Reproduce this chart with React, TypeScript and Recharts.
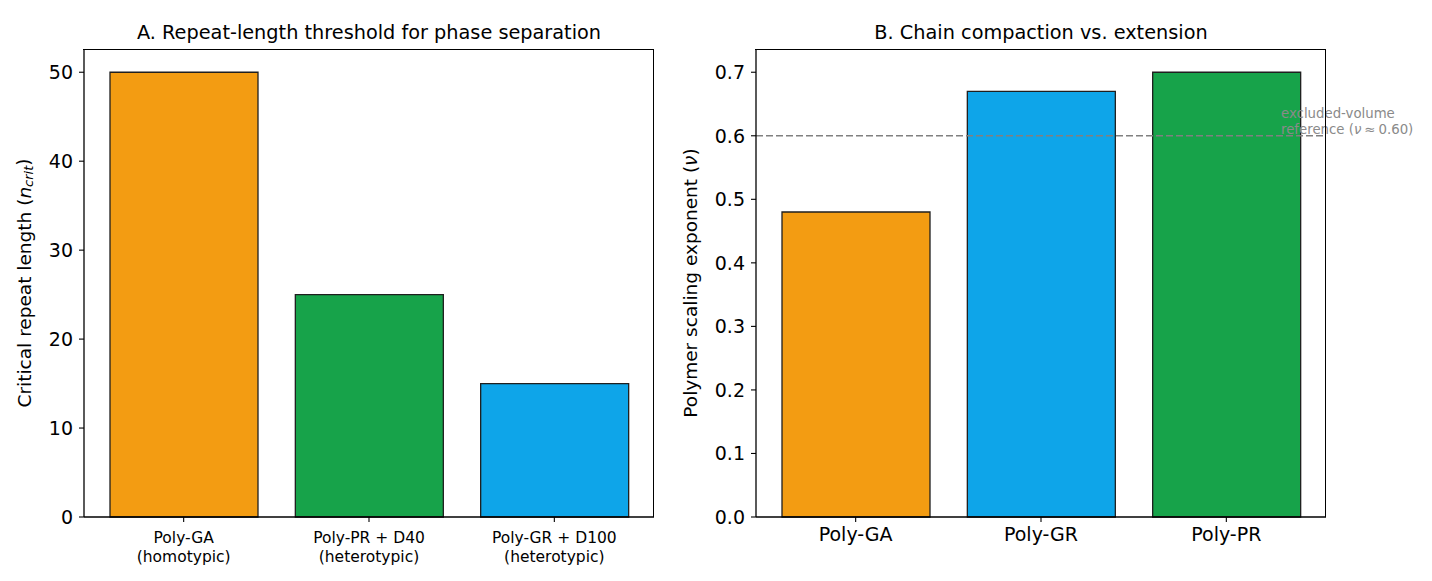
import React from "react";
import { BarChart, Bar, Cell, XAxis, YAxis, ReferenceLine } from "recharts";

const thresholdCategories = ["Poly-GA\n(homotypic)", "Poly-PR + D40\n(heterotypic)", "Poly-GR + D100\n(heterotypic)"];
const thresholdValues = [50, 25, 15];
const thresholdColors = ["#f39c12", "#17a34a", "#0ea5e9"];
const thresholdTicks = [0, 10, 20, 30, 40, 50];

const scalingCategories = ["Poly-GA", "Poly-GR", "Poly-PR"];
const scalingValues = [0.48, 0.67, 0.7];
const scalingColors = ["#f39c12", "#0ea5e9", "#17a34a"];
const scalingTicks = [0, 0.1, 0.2, 0.3, 0.4, 0.5, 0.6, 0.7];
const excludedVolumeNu = 0.6;

const FONT = "DejaVu Sans, sans-serif";
const EDGE = "#1f1f1f";

const thresholdData = thresholdCategories.map((name, i) => ({ name, value: thresholdValues[i] }));
const scalingData = scalingCategories.map((name, i) => ({ name, value: scalingValues[i] }));

function TwoLineTick(props: any) {
  const { x, y, payload } = props;
  const lines = String(payload.value).split("\n");
  return (
    <g transform={`translate(${x},${y})`}>
      {lines.map((line, i) => (
        <text
          key={i}
          x={0}
          y={i * 19}
          dy="0.95em"
          textAnchor="middle"
          fontSize={15.5}
          fontFamily={FONT}
          fill="#000"
        >
          {line}
        </text>
      ))}
    </g>
  );
}

const tickStyle = { fontSize: 19, fontFamily: FONT, fill: "#000" };

function Title({ text, center }: { text: string; center: number }) {
  return (
    <div
      style={{
        position: "absolute",
        top: 22,
        left: center - 300,
        width: 600,
        textAlign: "center",
        fontFamily: FONT,
        fontSize: 19.3,
        lineHeight: "22px",
        color: "#000",
        whiteSpace: "nowrap",
      }}
    >
      {text}
    </div>
  );
}

// plot frame (top/right spines), sits exactly over the plot area
function Frame({ left, width }: { left: number; width: number }) {
  return (
    <div
      style={{
        position: "absolute",
        left: left - 0.65,
        top: 50 - 0.65,
        width: width,
        height: 467,
        borderTop: "1.3px solid #000",
        borderRight: "1.3px solid #000",
        pointerEvents: "none",
      }}
    />
  );
}

export default function App() {
  return (
    <div style={{ position: "absolute", left: 0, top: 0, width: 1432, height: 581, background: "#fff" }}>
      <Title text="A. Repeat-length threshold for phase separation" center={369} />
      <Title text="B. Chain compaction vs. extension" center={1041} />

      <div style={{ position: "absolute", left: 0, top: 0 }}>
        <BarChart width={716} height={581} data={thresholdData} margin={{ top: 50, right: 62, bottom: 24, left: 24 }}>
          <XAxis
            dataKey="name"
            height={40}
            padding={{ left: 7, right: 7 }}
            tick={<TwoLineTick />}
            tickSize={5}
            tickMargin={6}
            axisLine={{ stroke: "#000", strokeWidth: 1.3 }}
            tickLine={{ stroke: "#000", strokeWidth: 1.1 }}
            interval={0}
          />
          <YAxis
            width={60}
            domain={[0, 52.5]}
            ticks={thresholdTicks}
            tick={tickStyle}
            tickSize={5}
            tickMargin={6}
            axisLine={{ stroke: "#000", strokeWidth: 1.3 }}
            tickLine={{ stroke: "#000", strokeWidth: 1.1 }}
            label={{
              content: () => (
                <text
                  x={24}
                  y={283}
                  transform="rotate(-90,24,283)"
                  textAnchor="middle"
                  dominantBaseline="central"
                  fontSize={18.5}
                  fontFamily={FONT}
                  fill="#000"
                >
                  Critical repeat length (<tspan fontStyle="italic">n</tspan>
                  <tspan fontStyle="italic" fontSize="0.7em" dy="0.3em">crit</tspan>
                  <tspan dy="-0.25em">)</tspan>
                </text>
              ),
            }}
          />
          <Bar dataKey="value" barSize={148} stroke={EDGE} strokeWidth={1.3} isAnimationActive={false}>
            {thresholdData.map((d, i) => (
              <Cell key={d.name} fill={thresholdColors[i]} />
            ))}
          </Bar>
        </BarChart>
      </div>
      <Frame left={84} width={570} />

      <div style={{ position: "absolute", left: 672, top: 0 }}>
        <BarChart width={760} height={581} data={scalingData} margin={{ top: 50, right: 106, bottom: 24, left: 24 }}>
          <XAxis
            dataKey="name"
            height={40}
            padding={{ left: 7, right: 7 }}
            tick={tickStyle}
            tickSize={5}
            tickMargin={6}
            axisLine={{ stroke: "#000", strokeWidth: 1.3 }}
            tickLine={{ stroke: "#000", strokeWidth: 1.1 }}
            interval={0}
          />
          <YAxis
            width={60}
            domain={[0, 0.735]}
            ticks={scalingTicks}
            tickFormatter={(v: number) => v.toFixed(1)}
            tick={tickStyle}
            tickSize={5}
            tickMargin={6}
            axisLine={{ stroke: "#000", strokeWidth: 1.3 }}
            tickLine={{ stroke: "#000", strokeWidth: 1.1 }}
            label={{
              content: () => (
                <text
                  x={18}
                  y={283}
                  transform="rotate(-90,18,283)"
                  textAnchor="middle"
                  dominantBaseline="central"
                  fontSize={18.5}
                  fontFamily={FONT}
                  fill="#000"
                >
                  Polymer scaling exponent (<tspan fontStyle="italic">ν</tspan>)
                </text>
              ),
            }}
          />
          <Bar dataKey="value" barSize={148} stroke={EDGE} strokeWidth={1.3} isAnimationActive={false}>
            {scalingData.map((d, i) => (
              <Cell key={d.name} fill={scalingColors[i]} />
            ))}
          </Bar>
          <ReferenceLine
            y={excludedVolumeNu}
            stroke="#808080"
            strokeWidth={1.4}
            strokeDasharray="7 3"
            label={{
              content: (p: any) => {
                const vb = p.viewBox || {};
                const x = (vb.x || 0) + (vb.width || 0) - 45;
                const y = vb.y || 0;
                return (
                  <g fontFamily={FONT} fontSize={13.3} fill="#8a8a8a">
                    <text x={x} y={y - 18}>excluded-volume</text>
                    <text x={x} y={y - 2}>
                      reference (<tspan fontStyle="italic">ν</tspan>
                      <tspan dx={3}>≈</tspan>
                      <tspan dx={3}>0.60)</tspan>
                    </text>
                  </g>
                );
              },
            }}
          />
        </BarChart>
      </div>
      <Frame left={756} width={570} />
    </div>
  );
}
